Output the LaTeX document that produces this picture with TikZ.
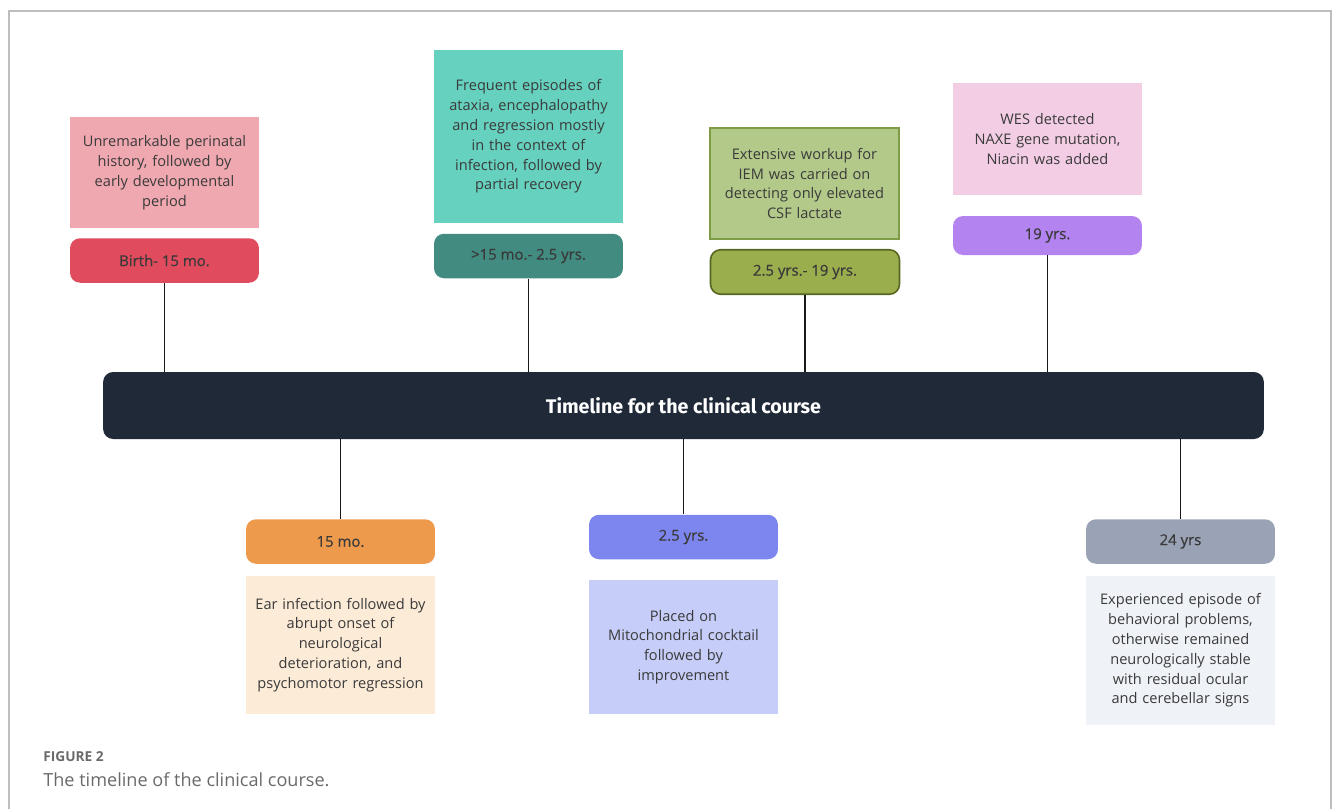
\documentclass[tikz,border=0pt]{standalone}
\usepackage{fontspec}
\setmainfont{Open Sans}
\newfontfamily\titlefont{Fira Sans}
\newfontfamily\labelfont[FakeBold=0.6]{Open Sans}
\usetikzlibrary{positioning}
\definecolor{barnavy}{HTML}{1F2937}
\definecolor{textgray}{HTML}{3A3A3A}
\definecolor{framegray}{HTML}{BDBDBD}
\definecolor{capgray}{HTML}{6A6A6A}
\definecolor{pinkdesc}{HTML}{EFA8B0}
\definecolor{redage}{HTML}{E04B5E}
\definecolor{tealdesc}{HTML}{66D1BE}
\definecolor{tealage}{HTML}{428B80}
\definecolor{greendesc}{HTML}{B3C98A}
\definecolor{greenline}{HTML}{7E9C45}
\definecolor{greenage}{HTML}{9AAE4E}
\definecolor{oliveline}{HTML}{56661F}
\definecolor{rosedesc}{HTML}{F2CDE4}
\definecolor{purpleage}{HTML}{B383F0}
\definecolor{peachdesc}{HTML}{FCEBD7}
\definecolor{orangeage}{HTML}{EE9A4D}
\definecolor{bluedesc}{HTML}{C5CDF8}
\definecolor{blueage}{HTML}{7D86EE}
\definecolor{slateage}{HTML}{99A3B5}
\definecolor{icedesc}{HTML}{EFF2F7}
\newcommand{\boxw}{3.78cm}
\newcommand{\ageh}{0.89cm}
\tikzset{
  descbox/.style={minimum width=\boxw, text width=3.7cm, align=center, inner sep=0pt,
    font=\fontsize{8.3}{11.3}\selectfont, text=textgray},
  agebox/.style={rounded corners=0.2cm, minimum width=\boxw, minimum height=\ageh,
    inner sep=0pt, font=\labelfont\fontsize{8.5}{10}\selectfont, text=textgray},
  stem/.style={line width=1.1pt, black!90}
}

\begin{document}
\begin{tikzpicture}[x=0.02cm, y=-0.02cm]
\useasboundingbox (0,0) rectangle (1333,809);
\draw[framegray, line width=0.6pt] (9,809) -- (9,11) -- (1331,11) -- (1331,809);
%bar
\node[fill=barnavy, rounded corners=0.2cm, minimum width=23.22cm, minimum height=1.34cm,
  text=white, font=\titlefont\bfseries\fontsize{11.2}{13}\selectfont] (bar) at (683.5,405.5)
  {Timeline for the clinical course};
%above
\node[descbox, fill=pinkdesc, minimum height=2.22cm] (d1) at (164.5,172.5)
  {Unremarkable perinatal\\history, followed by\\early developmental\\period};
\node[agebox, fill=redage] (a1) at (164.5,260.5) {Birth- 15 mo.};
\node[descbox, fill=tealdesc, minimum height=3.46cm] (d2) at (528.5,136.5)
  {Frequent episodes of\\ataxia, encephalopathy\\and regression mostly\\in the context of\\infection, followed by\\partial recovery};
\node[agebox, fill=tealage] (a2) at (528.5,256) {>15 mo.- 2.5 yrs.};
\node[descbox, fill=greendesc, draw=greenline, line width=0.9pt, minimum height=2.22cm] (d3) at (804.5,183.5)
  {Extensive workup for\\IEM was carried on\\detecting only elevated\\CSF lactate};
\node[agebox, fill=greenage, draw=oliveline, line width=0.9pt] (a3) at (805,272) {2.5 yrs.- 19 yrs.};
\node[descbox, fill=rosedesc, minimum height=2.24cm] (d4) at (1047.5,139)
  {WES detected\\NAXE gene mutation,\\Niacin was added};
\node[agebox, fill=purpleage, minimum height=0.78cm] (a4) at (1047.5,235.5) {19 yrs.};
%below
\node[agebox, fill=orangeage] (a5) at (340.5,541.5) {15 mo.};
\node[descbox, fill=peachdesc, minimum height=2.76cm] (d5) at (340.5,645)
  {Ear infection followed by\\abrupt onset of\\neurological\\deterioration, and\\psychomotor regression};
\node[agebox, fill=blueage] (a6) at (683.5,537) {2.5 yrs.};
\node[descbox, fill=bluedesc, minimum height=2.68cm] (d6) at (683.5,647)
  {Placed on\\Mitochondrial cocktail\\followed by\\improvement};
\node[agebox, fill=slateage] (a7) at (1180.5,541.5) {24 yrs};
\node[descbox, fill=icedesc, minimum height=2.98cm] (d7) at (1180.5,650.5)
  {Experienced episode of\\behavioral problems,\\otherwise remained\\neurologically stable\\with residual ocular\\and cerebellar signs};
%stems
\draw[stem] (a1.south) -- (a1.south |- bar.north);
\draw[stem] (a2.south) -- (a2.south |- bar.north);
\draw[stem] (a3.south) -- (a3.south |- bar.north);
\draw[stem] (a4.south) -- (a4.south |- bar.north);
\draw[stem] (a5.north) -- (a5.north |- bar.south);
\draw[stem] (a6.north) -- (a6.north |- bar.south);
\draw[stem] (a7.north) -- (a7.north |- bar.south);
%caption
\node[anchor=base west, inner sep=0pt, text=capgray, font=\bfseries\fontsize{7.8}{9}\selectfont] (fig) at (43,761) {FIGURE 2};
\node[anchor=base west, inner sep=0pt, text=capgray, font=\fontsize{10.3}{12}\selectfont] (cap) at (43,786) {The timeline of the clinical course.};
\end{tikzpicture}
\end{document}
